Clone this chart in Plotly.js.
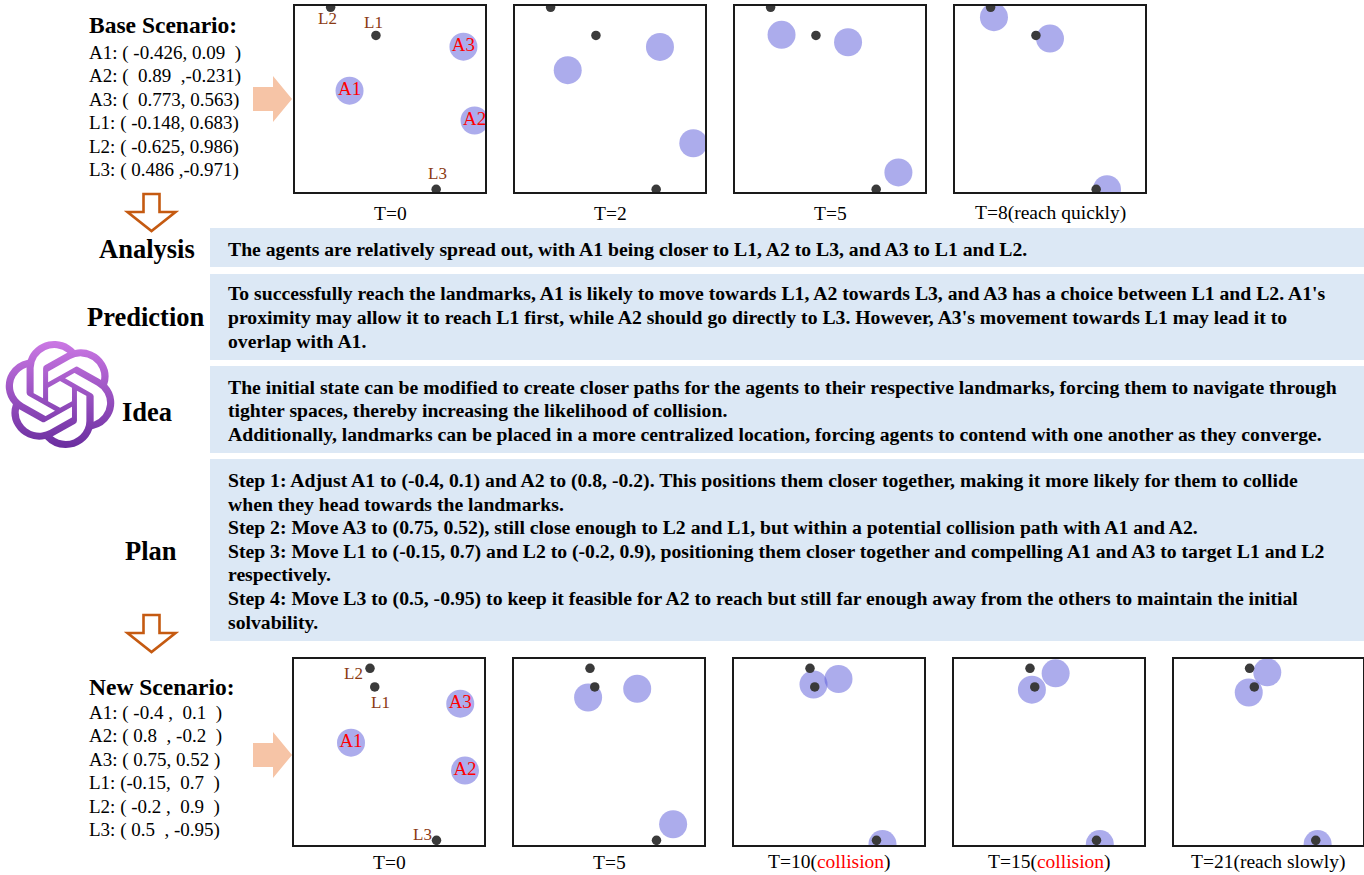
<!DOCTYPE html>
<html><head><meta charset="utf-8">
<script src="https://cdn.plot.ly/plotly-3.0.1.min.js"></script>
<style>html,body{margin:0;padding:0;background:#fff;}#chart{width:1364px;height:875px;}</style>
</head><body><div id="chart"></div>
<script>
// ---------------- DATA ----------------
const agentNames = ["A1", "A2", "A3"];
const landmarkNames = ["L1", "L2", "L3"];

// Base scenario
const baseLandmarkX = [-0.148, -0.625, 0.486];
const baseLandmarkY = [0.683, 0.986, -0.971];
const baseTimes = ["T=0", "T=2", "T=5", "T=8(reach quickly)"];
const baseAgentX = [[-0.426, 0.89, 0.773], [-0.445, 0.877, 0.526], [-0.51, 0.72, 0.19], [-0.59, 0.6, 0.0]];
const baseAgentY = [[0.09, -0.231, 0.563], [0.31, -0.476, 0.56], [0.69, -0.79, 0.61], [0.88, -0.97, 0.65]];
const baseListTitle = "Base Scenario:";
const baseList = ["A1: ( -0.426, 0.09\u00a0\u00a0)", "A2: (\u00a0\u00a00.89\u00a0\u00a0,-0.231)", "A3: (\u00a0\u00a00.773, 0.563)",
                  "L1: ( -0.148, 0.683)", "L2: ( -0.625, 0.986)", "L3: ( 0.486 ,-0.971)"];

// New scenario
const newLandmarkX = [-0.15, -0.2, 0.5];
const newLandmarkY = [0.7, 0.9, -0.95];
const newTimes = ["T=0", "T=5", "T=10(<span style='color:#ff0000'>collision</span>)",
                  "T=15(<span style='color:#ff0000'>collision</span>)", "T=21(reach slowly)"];
const newAgentX = [[-0.4, 0.8, 0.75], [-0.22, 0.675, 0.297], [-0.163, 0.563, 0.1], [-0.18, 0.535, 0.07], [-0.209, 0.52, -0.013]];
const newAgentY = [[0.1, -0.2, 0.52], [0.586, -0.777, 0.68], [0.726, -0.99, 0.785], [0.67, -0.99, 0.846], [0.64, -0.99, 0.857]];
const newListTitle = "New Scenario:";
const newList = ["A1: ( -0.4 ,\u00a0\u00a00.1\u00a0\u00a0)", "A2: ( 0.8\u00a0\u00a0, -0.2\u00a0\u00a0)", "A3: ( 0.75, 0.52 )",
                 "L1: (-0.15,\u00a0\u00a00.7\u00a0\u00a0)", "L2: ( -0.2 ,\u00a0\u00a00.9\u00a0\u00a0)", "L3: ( 0.5\u00a0\u00a0, -0.95)"];

// Reasoning texts
const stageNames = ["Analysis", "Prediction", "Idea", "Plan"];
const analysisLines = ["The agents are relatively spread out, with A1 being closer to L1, A2 to L3, and A3 to L1 and L2."];
const predictionLines = [
  "To successfully reach the landmarks, A1 is likely to move towards L1, A2 towards L3, and A3 has a choice between L1 and L2. A1's",
  "proximity may allow it to reach L1 first, while A2 should go directly to L3. However, A3's movement towards L1 may lead it to",
  "overlap with A1."];
const ideaLines = [
  "The initial state can be modified to create closer paths for the agents to their respective landmarks, forcing them to navigate through",
  "tighter spaces, thereby increasing the likelihood of collision.",
  "Additionally, landmarks can be placed in a more centralized location, forcing agents to contend with one another as they converge."];
const planLines = [
  "Step 1: Adjust A1 to (-0.4, 0.1) and A2 to (0.8, -0.2). This positions them closer together, making it more likely for them to collide",
  "when they head towards the landmarks.",
  "Step 2: Move A3 to (0.75, 0.52), still close enough to L2 and L1, but within a potential collision path with A1 and A2.",
  "Step 3: Move L1 to (-0.15, 0.7) and L2 to (-0.2, 0.9), positioning them closer together and compelling A1 and A3 to target L1 and L2",
  "respectively.",
  "Step 4: Move L3 to (0.5, -0.95) to keep it feasible for A2 to reach but still far enough away from the others to maintain the initial",
  "solvability."];

// ---------------- LAYOUT HELPERS ----------------
const W = 1364, H = 875;
const px = v => v / W;
const py = v => 1 - v / H;
const FONT = "Liberation Serif, 'Times New Roman', Times, serif";
const AGENT_COLOR = "rgba(89,89,217,0.5)";
const LM_COLOR = "#3a3a3a";
const LABEL_BROWN = "#8b3a12";

const topBoxes = [[295, 485], [515, 705], [735, 925], [955, 1145]];
const topY = [6, 192];
const botBoxes = [[294, 484], [514, 704], [734, 924], [954, 1144], [1174, 1363]];
const botY = [659, 845];

const traces = [];
const layout = {
  width: W, height: H, margin: {l: 0, r: 0, t: 0, b: 0},
  paper_bgcolor: "#ffffff", plot_bgcolor: "#ffffff",
  showlegend: false, font: {family: FONT, color: "#000"},
  shapes: [], annotations: [], images: []
};

let axIdx = 0;
function addPanel(box, yr, ax, ay, lx, ly, caption, captionCfg, labelCfg) {
  axIdx++;
  const xa = axIdx === 1 ? "xaxis" : "xaxis" + axIdx;
  const ya = axIdx === 1 ? "yaxis" : "yaxis" + axIdx;
  const xr = axIdx === 1 ? "x" : "x" + axIdx;
  const yrf = axIdx === 1 ? "y" : "y" + axIdx;
  const axBase = {range: [-1, 1], showgrid: false, zeroline: false, showticklabels: false, ticks: "",
                  showline: true, mirror: true, linecolor: "#1a1a1a", linewidth: 1.6, fixedrange: true};
  layout[xa] = Object.assign({}, axBase, {domain: [px(box[0]), px(box[1])], anchor: yrf});
  layout[ya] = Object.assign({}, axBase, {domain: [py(yr[1]), py(yr[0])], anchor: xr});
  traces.push({
    type: "scatter", mode: labelCfg ? "markers+text" : "markers", x: ax, y: ay, xaxis: xr, yaxis: yrf,
    text: labelCfg ? agentNames : undefined, textposition: "middle center",
    textfont: {family: FONT, size: 19, color: "#ff0000"},
    marker: {size: 28, color: AGENT_COLOR, line: {width: 0}}, hoverinfo: "skip", cliponaxis: true
  });
  traces.push({
    type: "scatter", mode: "markers", x: lx, y: ly, xaxis: xr, yaxis: yrf,
    marker: {size: 9.5, color: LM_COLOR, line: {width: 0}}, hoverinfo: "skip", cliponaxis: true
  });
  if (labelCfg) {
    for (let i = 0; i < 3; i++) {
      layout.annotations.push({
        xref: xr, yref: yrf, x: lx[i], y: ly[i], text: landmarkNames[i], showarrow: false,
        xanchor: "center", yanchor: "middle", xshift: labelCfg[i][0], yshift: labelCfg[i][1],
        font: {family: FONT, size: 17, color: LABEL_BROWN}
      });
    }
  }
  layout.annotations.push(Object.assign({
    xref: "paper", yref: "paper", x: px((box[0] + box[1]) / 2), text: caption,
    showarrow: false, xanchor: "center", font: {family: FONT, size: 19.5, color: "#000"}
  }, captionCfg));
}

// base row
const baseLabelShift = [[-2, 13], [-3, -11], [1, 16]];
topBoxes.forEach((b, i) => addPanel(b, topY, baseAgentX[i], baseAgentY[i], baseLandmarkX, baseLandmarkY,
  baseTimes[i], {y: py(213), yanchor: "middle"}, i === 0 ? baseLabelShift : null));
// new row
const newLabelShift = [[6, -16], [-17, -5], [-14, 6]];
botBoxes.forEach((b, i) => addPanel(b, botY, newAgentX[i], newAgentY[i], newLandmarkX, newLandmarkY,
  newTimes[i], {y: py(875), yanchor: "bottom"}, i === 0 ? newLabelShift : null));

// scenario lists
function addList(title, lines, titleY, firstY) {
  layout.annotations.push({xref: "paper", yref: "paper", x: px(87), y: py(titleY), text: "<b>" + title + "</b>",
    showarrow: false, xanchor: "left", yanchor: "middle", font: {family: FONT, size: 23.5, color: "#000"}});
  lines.forEach((t, i) => layout.annotations.push({xref: "paper", yref: "paper", x: px(87), y: py(firstY + i * 23.4),
    text: t, showarrow: false, xanchor: "left", yanchor: "middle", font: {family: FONT, size: 19, color: "#000"}}));
}
addList(baseListTitle, baseList, 25, 53);
addList(newListTitle, newList, 687, 713);

// peach arrows
function peachArrow(cy) {
  const p = [[253, cy - 12], [273, cy - 12], [273, cy - 23], [292, cy], [273, cy + 23], [273, cy + 12], [253, cy + 12]];
  layout.shapes.push({type: "path", xref: "paper", yref: "paper", layer: "below",
    path: "M" + p.map(q => px(q[0]) + "," + py(q[1])).join(" L") + " Z",
    fillcolor: "#f6c4a6", line: {width: 0}});
}
peachArrow(99);
peachArrow(755);

// outlined down arrows
function downArrow(top) {
  const cx = 151.5;
  const p = [[cx - 8, top], [cx + 8, top], [cx + 8, top + 18], [cx + 24, top + 18], [cx, top + 37],
             [cx - 24, top + 18], [cx - 8, top + 18]];
  layout.shapes.push({type: "path", xref: "paper", yref: "paper",
    path: "M" + p.map(q => px(q[0]) + "," + py(q[1])).join(" L") + " Z",
    fillcolor: "rgba(255,255,255,0)", line: {width: 2.6, color: "#c55a11"}});
}
downArrow(194);
downArrow(615);

// reasoning boxes
const boxes = [[228, 267], [274, 360], [366, 453], [459, 641]];
const stageY = [249, 317, 412, 551];
const stageX = [147, 146, 147, 151];
const lineYs = [[249], [293, 317, 341], [387, 410, 434], [480, 504, 527, 551, 574, 598, 622]];
const allLines = [analysisLines, predictionLines, ideaLines, planLines];
boxes.forEach((b, k) => {
  layout.shapes.push({type: "rect", xref: "paper", yref: "paper", layer: "below",
    x0: px(210), x1: px(1364), y0: py(b[1]), y1: py(b[0]), fillcolor: "#dce8f5", line: {width: 0}});
  layout.annotations.push({xref: "paper", yref: "paper", x: px(stageX[k]), y: py(stageY[k]),
    text: "<b>" + stageNames[k] + "</b>", showarrow: false, xanchor: "center", yanchor: "middle",
    font: {family: FONT, size: 26.5, color: "#000"}});
  allLines[k].forEach((t, i) => layout.annotations.push({xref: "paper", yref: "paper", x: px(226), y: py(lineYs[k][i]),
    text: "<b>" + t + "</b>", showarrow: false, xanchor: "left", yanchor: "middle",
    font: {family: FONT, size: 19.7, color: "#000"}}));
});

// OpenAI-style logo
const logoSvg = '<svg xmlns="http://www.w3.org/2000/svg" viewBox="0 0 24 24"><defs><linearGradient id="g" x1="0" y1="0" x2="0" y2="1">' +
  '<stop offset="0" stop-color="#cb78e4"/><stop offset="1" stop-color="#6a2d9f"/></linearGradient></defs>' +
  '<path fill="url(#g)" d="M22.2819 9.8211a5.9847 5.9847 0 0 0-.5157-4.9108 6.0462 6.0462 0 0 0-6.5098-2.9A6.0651 6.0651 0 0 0 4.9807 4.1818a5.9847 5.9847 0 0 0-3.9977 2.9 6.0462 6.0462 0 0 0 .7427 7.0966 5.98 5.98 0 0 0 .511 4.9107 6.051 6.051 0 0 0 6.5146 2.9001A5.9847 5.9847 0 0 0 13.2599 24a6.0557 6.0557 0 0 0 5.7718-4.2058 5.9894 5.9894 0 0 0 3.9977-2.9001 6.0557 6.0557 0 0 0-.7475-7.0729zm-9.022 12.6081a4.4755 4.4755 0 0 1-2.8764-1.0408l.1419-.0804 4.7783-2.7582a.7948.7948 0 0 0 .3927-.6813v-6.7369l2.02 1.1686a.071.071 0 0 1 .038.052v5.5826a4.504 4.504 0 0 1-4.4945 4.4944zm-9.6607-4.1254a4.4708 4.4708 0 0 1-.5346-3.0137l.142.0852 4.783 2.7582a.7712.7712 0 0 0 .7806 0l5.8428-3.3685v2.3324a.0804.0804 0 0 1-.0332.0615L9.74 19.9502a4.4992 4.4992 0 0 1-6.1408-1.6464zM2.3408 7.8956a4.485 4.485 0 0 1 2.3655-1.9728V11.6a.7664.7664 0 0 0 .3879.6765l5.8144 3.3543-2.0201 1.1685a.0757.0757 0 0 1-.071 0l-4.8303-2.7865A4.504 4.504 0 0 1 2.3408 7.872zm16.5963 3.8558L13.1038 8.364 15.1192 7.2a.0757.0757 0 0 1 .071 0l4.8303 2.7913a4.4944 4.4944 0 0 1-.6765 8.1042v-5.6772a.79.79 0 0 0-.407-.667zm2.0107-3.0231l-.142-.0852-4.7735-2.7818a.7759.7759 0 0 0-.7854 0L9.409 9.2297V6.8974a.0662.0662 0 0 1 .0284-.0615l4.8303-2.7866a4.4992 4.4992 0 0 1 6.6802 4.66zM8.3065 12.863l-2.02-1.1638a.0804.0804 0 0 1-.038-.0567V6.0742a4.4992 4.4992 0 0 1 7.3757-3.4537l-.142.0805L8.704 5.459a.7948.7948 0 0 0-.3927.6813zm1.0976-2.3654l2.602-1.4998 2.6069 1.4998v2.9994l-2.5974 1.4997-2.6067-1.4997Z"/></svg>';
layout.images.push({source: "data:image/svg+xml;charset=utf-8," + encodeURIComponent(logoSvg),
  xref: "paper", yref: "paper", x: px(5), y: py(341), sizex: 110 / W, sizey: 107 / H,
  xanchor: "left", yanchor: "top", sizing: "stretch", layer: "above"});

Plotly.newPlot("chart", traces, layout, {staticPlot: true, displayModeBar: false});
</script></body></html>
